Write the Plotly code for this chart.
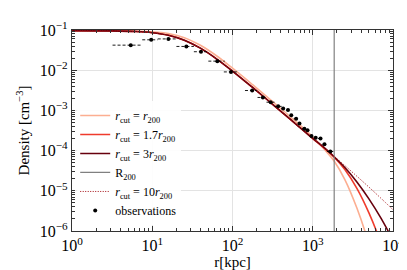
import plotly.graph_objects as go

# ---------------- data ----------------
R200 = 1850.0  # kpc

# model curves sampled at log10(r / kpc)
LOGR_CURVE = [0.0, 0.5, 0.8, 1.0, 1.2, 1.4, 1.6, 1.8, 2.0, 2.25, 2.5, 2.75,
              3.0, 3.15, 3.27, 3.4, 3.55, 3.7, 3.85, 4.0]
# log10(density / cm^-3)
LOG_RHO_CUT_1 = [-1.018, -1.020, -1.030, -1.045, -1.090, -1.190, -1.380, -1.640,
                 -1.950, -2.360, -2.780, -3.210, -3.660, -3.980, -4.270, -4.720,
                 -5.430, -6.320, -7.400, -8.500]
LOG_RHO_CUT_17 = [-1.018, -1.023, -1.038, -1.067, -1.130, -1.253, -1.452, -1.716,
                  -2.021, -2.429, -2.848, -3.271, -3.700, -3.950, -4.170, -4.470,
                  -4.940, -5.550, -6.300, -7.200]
LOG_RHO_CUT_3 = [-1.018, -1.023, -1.038, -1.067, -1.130, -1.253, -1.452, -1.716,
                 -2.021, -2.429, -2.848, -3.271, -3.696, -3.940, -4.160, -4.420,
                 -4.780, -5.200, -5.680, -6.230]
LOG_RHO_CUT_10 = [-1.018, -1.023, -1.038, -1.067, -1.130, -1.253, -1.452, -1.716,
                  -2.021, -2.429, -2.848, -3.271, -3.690, -3.940, -4.150, -4.373,
                  -4.638, -4.908, -5.186, -5.471]

# observations
OBS_R = [5.4, 9.7, 15.9, 26.6, 40.5, 64.7, 95.7, 176, 239, 299, 371, 428, 492,
         540, 621, 683, 786, 861, 964, 1088, 1250, 1400, 1656]
OBS_RHO = [0.042, 0.057, 0.060, 0.039, 0.0288, 0.0168, 0.00906, 0.00312, 0.0021,
           0.0016, 0.00126, 0.00111, 0.00102, 0.00076, 0.00062, 0.00047, 0.00035,
           0.00032, 0.00023, 0.00021, 0.00020, 0.000144, 0.000095]
OBS_R_LO = [3.2, 7.5, 11.7, 20, 33, 50, 78, 143, 205, 265, 335, 410, 465,
            520, 580, 655, 735, 825, 915, 1030, 1160, 1320, 1500]
OBS_R_HI = [7.5, 11.7, 20, 33, 50, 80, 114, 200, 270, 335, 410, 465, 520,
            580, 655, 735, 825, 915, 1030, 1160, 1320, 1500, 1800]

X_TICKS = [1, 10, 100, 1000, 10000]
X_TICK_TEXT = ["10<sup>0</sup>", "10<sup>1</sup>", "10<sup>2</sup>", "10<sup>3</sup>", "10<sup>4</sup>"]
Y_TICKS = [1e-6, 1e-5, 1e-4, 1e-3, 1e-2, 1e-1]
Y_TICK_TEXT = ["10<sup>−6</sup>", "10<sup>−5</sup>", "10<sup>−4</sup>",
               "10<sup>−3</sup>", "10<sup>−2</sup>", "10<sup>−1</sup>"]

# ---------------- figure ----------------
FONT = "Liberation Serif"
r_curve = [10 ** v for v in LOGR_CURVE]

def dens(arr):
    return [10 ** v for v in arr]

fig = go.Figure()

fig.add_trace(go.Scatter(x=r_curve, y=dens(LOG_RHO_CUT_1), mode="lines",
                         line=dict(color="#fcae91", width=1.6, shape="spline"),
                         name="<i>r</i><sub>cut</sub> = <i>r</i><sub>200</sub>"))
fig.add_trace(go.Scatter(x=r_curve, y=dens(LOG_RHO_CUT_17), mode="lines",
                         line=dict(color="#ef3b2c", width=1.6, shape="spline"),
                         name="<i>r</i><sub>cut</sub> = 1.7<i>r</i><sub>200</sub>"))
fig.add_trace(go.Scatter(x=r_curve, y=dens(LOG_RHO_CUT_3), mode="lines",
                         line=dict(color="#67000d", width=1.6, shape="spline"),
                         name="<i>r</i><sub>cut</sub> = 3<i>r</i><sub>200</sub>"))
fig.add_trace(go.Scatter(x=[R200, R200], y=[1e-6, 1e-1], mode="lines",
                         line=dict(color="#808080", width=1.2),
                         name="R<sub>200</sub>"))
fig.add_trace(go.Scatter(x=r_curve, y=dens(LOG_RHO_CUT_10), mode="lines",
                         line=dict(color="#a50f15", width=1.0, dash="1px,1.5px", shape="spline"),
                         name="<i>r</i><sub>cut</sub> = 10<i>r</i><sub>200</sub>"))

# dashed horizontal error bars
ex, ey = [], []
for lo, hi, y in zip(OBS_R_LO, OBS_R_HI, OBS_RHO):
    ex += [lo, hi, None]
    ey += [y, y, None]
fig.add_trace(go.Scatter(x=ex, y=ey, mode="lines",
                         line=dict(color="black", width=0.9, dash="3px,2px"),
                         showlegend=False, hoverinfo="skip"))
fig.add_trace(go.Scatter(x=OBS_R, y=OBS_RHO, mode="markers",
                         marker=dict(color="black", size=4),
                         name="observations"))

minor_x = [m * 10 ** e for e in range(0, 4) for m in range(2, 10)]
minor_y = [m * 10 ** e for e in range(-6, -1) for m in range(2, 10)]

axis_common = dict(
    type="log", showline=True, linecolor="#333333", linewidth=1.3,
    mirror="allticks", ticks="inside", ticklen=5, tickwidth=1, tickcolor="#333333",
    showgrid=True, gridcolor="#e3e3e3", gridwidth=1, zeroline=False,
    tickfont=dict(family=FONT, size=16, color="black"),
)

fig.update_xaxes(**axis_common, range=[0, 4], tickmode="array",
                 tickvals=X_TICKS, ticktext=X_TICK_TEXT,
                 minor=dict(tickmode="array", tickvals=minor_x, ticks="inside",
                            ticklen=2.5, tickcolor="#333333", showgrid=False),
                 title=dict(text="r[kpc]", font=dict(family=FONT, size=15, color="black"),
                            standoff=2))
fig.update_yaxes(**axis_common, range=[-6, -1], tickmode="array",
                 tickvals=Y_TICKS, ticktext=Y_TICK_TEXT,
                 minor=dict(tickmode="array", tickvals=minor_y, ticks="inside",
                            ticklen=2.5, tickcolor="#333333", showgrid=False),
                 title=dict(text="Density [cm<sup>−3</sup>]",
                            font=dict(family=FONT, size=15, color="black"), standoff=6))

fig.update_layout(
    width=407, height=270,
    margin=dict(l=64, r=15, t=11, b=47),
    paper_bgcolor="white", plot_bgcolor="white",
    font=dict(family=FONT, color="black"),
    showlegend=True,
    legend=dict(x=0.01, y=0.03, xanchor="left", yanchor="bottom",
                bgcolor="rgba(255,255,255,0.9)", borderwidth=0,
                font=dict(family=FONT, size=12, color="black"),
                itemwidth=30, tracegroupgap=0),
)

fig.write_html("out.html")
